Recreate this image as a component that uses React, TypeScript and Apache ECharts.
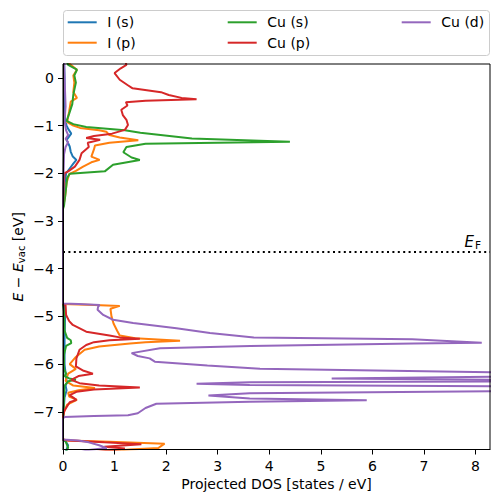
import React, { useEffect, useRef } from "react";
import * as echarts from "echarts";

const seriesNames = ["I (s)", "I (p)", "Cu (s)", "Cu (p)", "Cu (d)"];
const seriesColors = ["#1f77b4", "#ff7f0e", "#2ca02c", "#d62728", "#9467bd"];

// Each point: [projected DOS, E - E_vac]
const iS: number[][] = [
  [0.02, 0.4], [0.03, 0.0], [0.03, -0.5], [0.04, -0.9], [0.07, -1.0], [0.1, -1.07],
  [0.16, -1.17], [0.07, -1.3], [0.13, -1.44], [0.15, -1.55], [0.19, -1.65], [0.26, -1.72],
  [0.2, -1.8], [0.13, -1.9], [0.06, -2.0], [0.04, -2.2], [0.02, -2.5], [0, -2.72],
  [0, -4.74], [0.03, -4.78], [0.04, -5.0], [0.03, -5.5], [0.03, -6.0], [0.06, -6.3],
  [0.08, -6.38], [0.05, -6.45], [0.07, -6.55], [0.03, -6.7], [0.01, -7.0], [0, -7.15],
  [0, -7.58], [0.05, -7.62], [0.1, -7.7], [0.05, -7.85],
];

const iP: number[][] = [
  [0.1, 0.4], [0.12, 0.3], [0.27, 0.17], [0.2, 0.05], [0.22, -0.1], [0.2, -0.3],
  [0.27, -0.42], [0.15, -0.5], [0.12, -0.7], [0.08, -0.93], [0.2, -1.0], [0.33, -1.05],
  [0.7, -1.1], [0.84, -1.13], [0.9, -1.2], [1.1, -1.25], [1.46, -1.31], [0.9, -1.36],
  [0.62, -1.42], [0.6, -1.5], [0.55, -1.65], [0.71, -1.72], [0.55, -1.77], [0.39, -1.86],
  [0.25, -1.95], [0.12, -2.02], [0.07, -2.2], [0.04, -2.5], [0, -2.72],
  [0, -4.74], [0.6, -4.76], [1.1, -4.78], [0.92, -4.84], [0.94, -5.0], [0.98, -5.15],
  [1.05, -5.3], [1.1, -5.4], [1.4, -5.46], [2.27, -5.51], [1.6, -5.54], [1.3, -5.57],
  [0.7, -5.63], [0.42, -5.7], [0.25, -5.85], [0.13, -6.0], [0.25, -6.1], [0.1, -6.2],
  [0.05, -6.35], [0.2, -6.45], [0.62, -6.5], [0.3, -6.55], [0.1, -6.6], [0.12, -6.68],
  [0.27, -6.75], [0.08, -6.85], [0.02, -7.0], [0, -7.1],
  [0, -7.58], [0.1, -7.6], [0.9, -7.63], [1.97, -7.67], [1.9, -7.72], [1.85, -7.76],
  [1.3, -7.79], [0.6, -7.85],
];

const cuS: number[][] = [
  [0.05, 0.4], [0.1, 0.27], [0.27, 0.17], [0.22, 0.05], [0.25, -0.1], [0.2, -0.35],
  [0.18, -0.55], [0.12, -0.75], [0.07, -0.9], [0.2, -0.97], [0.45, -1.03], [1.2, -1.1],
  [1.5, -1.15], [2.5, -1.27], [4.4, -1.34], [1.6, -1.38], [1.23, -1.45], [1.17, -1.56],
  [1.33, -1.67], [1.49, -1.72], [0.97, -1.82], [0.81, -1.96], [0.13, -2.01], [0.08, -2.1],
  [0.05, -2.4], [0.02, -2.68], [0, -2.75],
  [0, -4.75], [0.02, -4.9], [0.03, -5.3], [0.08, -5.45], [0.15, -5.5], [0.16, -5.56],
  [0.06, -5.62], [0.02, -5.8], [0.02, -6.1], [0.06, -6.2], [0.03, -6.25], [0.12, -6.3],
  [0.25, -6.33], [0.1, -6.36], [0.03, -6.45], [0.02, -6.7], [0.01, -7.0], [0, -7.15],
  [0, -7.58], [0.05, -7.62], [0.1, -7.75], [0.05, -7.85],
];

const cuP: number[][] = [
  [1.2, 0.4], [1.23, 0.27], [1.12, 0.2], [1.0, 0.1], [1.1, -0.04], [1.25, -0.15],
  [1.35, -0.22], [1.9, -0.3], [2.05, -0.36], [2.3, -0.42], [2.59, -0.45], [1.6, -0.48],
  [1.22, -0.51], [1.25, -0.58], [1.13, -0.67], [1.16, -0.78], [1.23, -0.88], [1.26, -0.99],
  [1.2, -1.09], [0.95, -1.17], [0.6, -1.22], [0.45, -1.26], [0.72, -1.3], [0.48, -1.36],
  [0.5, -1.45], [0.36, -1.58], [0.32, -1.72], [0.23, -1.86], [0.1, -1.96], [0.03, -2.0],
  [0.01, -2.3], [0, -2.7],
  [0, -4.74], [0.05, -4.77], [0.06, -4.97], [0.12, -5.1], [0.19, -5.18], [0.45, -5.32],
  [0.9, -5.4], [1.1, -5.44], [1.49, -5.47], [0.9, -5.5], [0.6, -5.54], [0.45, -5.6],
  [0.32, -5.7], [0.26, -5.88], [0.25, -6.05], [0.4, -6.14], [0.58, -6.2], [0.3, -6.25],
  [0.16, -6.33], [0.32, -6.4], [0.7, -6.45], [1.49, -6.49], [0.6, -6.53], [0.26, -6.58],
  [0.13, -6.65], [0.26, -6.75], [0.13, -6.8], [0.03, -6.97], [0, -7.1],
  [0, -7.58], [0.1, -7.6], [0.8, -7.64], [1.52, -7.68], [0.8, -7.73], [1.2, -7.77],
  [1.0, -7.8], [0.5, -7.86],
];

const cuD: number[][] = [
  [0.02, 0.4], [0.03, 0.0], [0.04, -0.3], [0.05, -0.6], [0.03, -0.9], [0.06, -1.1],
  [0.1, -1.2], [0.05, -1.28], [0.1, -1.35], [0.05, -1.45], [0.02, -1.6], [0.01, -2.0],
  [0, -2.7],
  [0, -4.73], [0.3, -4.74], [0.71, -4.76], [0.68, -4.8], [0.67, -4.86], [0.78, -4.97],
  [0.97, -5.07], [1.36, -5.14], [2.2, -5.25], [2.85, -5.35], [3.7, -5.44], [6.77, -5.48],
  [8.12, -5.55], [6.8, -5.57], [3.63, -5.62], [1.88, -5.67], [1.33, -5.77], [1.45, -5.83],
  [1.68, -5.88], [1.78, -5.95], [2.8, -6.03], [3.82, -6.1], [9, -6.18], [11, -6.22],
  [9, -6.26], [5.21, -6.3], [9.5, -6.34], [9.5, -6.36], [3.62, -6.38], [2.59, -6.41],
  [3.62, -6.44], [9.5, -6.47], [11, -6.51], [9.5, -6.56], [3.62, -6.61], [2.82, -6.66],
  [3.62, -6.72], [5.89, -6.76], [3.62, -6.79], [1.81, -6.83], [1.6, -6.92], [1.45, -7.03],
  [1.26, -7.07], [0.6, -7.09], [0.02, -7.11], [0, -7.15],
  [0, -7.58], [0.3, -7.6], [0.5, -7.64], [0.7, -7.7], [0.85, -7.76], [0.5, -7.8],
  [0.3, -7.86],
];

const seriesData = [iS, iP, cuS, cuP, cuD];

const fermiLevel = -3.65;
const xTicks = [0, 1, 2, 3, 4, 5, 6, 7, 8];
const yTicks = [-7, -6, -5, -4, -3, -2, -1, 0];
const xMin = 0;
const xMax = 8.28;
const yMin = -7.79;
const yMax = 0.29;

const FONT = "DejaVu Sans";
const fmt = (v: number) => String(v).replace("-", "\u2212");

export default function App() {
  const ref = useRef<HTMLDivElement>(null);

  useEffect(() => {
    if (!ref.current) return;
    const chart = echarts.init(ref.current, null, { renderer: "svg" });

    const legendColX = [67.7, 227.7, 401.7];
    const legendRowY = [22.3, 42.7];
    const legendGraphics: any[] = [
      {
        type: "rect",
        shape: { x: 63.5, y: 10.5, width: 426, height: 45, r: 3 },
        style: { fill: "rgba(255,255,255,0.8)", stroke: "#cccccc", lineWidth: 1 },
        z: 20,
      },
    ];
    seriesNames.forEach((name, i) => {
      const cx = legendColX[Math.floor(i / 2)];
      const cy = legendRowY[i % 2];
      legendGraphics.push({
        type: "line",
        shape: { x1: cx, y1: cy, x2: cx + 29, y2: cy },
        style: { stroke: seriesColors[i], lineWidth: 2 },
        z: 21,
      });
      legendGraphics.push({
        type: "text",
        x: cx + 39.6,
        y: cy,
        style: {
          text: name,
          fontFamily: FONT,
          fontSize: 14,
          fill: "#000",
          verticalAlign: "middle",
          align: "left",
        },
        z: 21,
      });
    });

    const series: any[] = seriesData.map((d, i) => ({
      type: "line",
      name: seriesNames[i],
      data: d,
      showSymbol: false,
      symbol: "none",
      smooth: false,
      clip: true,
      lineStyle: { color: seriesColors[i], width: 2 },
      itemStyle: { color: seriesColors[i] },
      emphasis: { disabled: true },
      z: 2,
    }));
    series[4].markLine = {
      silent: true,
      symbol: ["none", "none"],
      data: [{ yAxis: fermiLevel }],
      lineStyle: { color: "#000", width: 2, type: [2, 3.4] },
      emphasis: { disabled: true },
      label: {
        show: true,
        position: "insideEndTop",
        distance: [9, 1],
        color: "#000",
        formatter: "{e|E}{f|F}",
        rich: {
          e: { fontFamily: FONT, fontStyle: "italic", fontSize: 15, color: "#000" },
          f: { fontFamily: FONT, fontSize: 10.5, color: "#000", padding: [7, 0, 0, 1] },
        },
      },
    };

    chart.setOption({
      animation: false,
      textStyle: { fontFamily: FONT },
      grid: {
        left: 63,
        right: 8,
        top: 64,
        bottom: 52.5,
        show: true,
        borderColor: "#000",
        borderWidth: 1,
        backgroundColor: "transparent",
        containLabel: false,
        outerBoundsMode: "none",
        z: 5,
      },
      xAxis: {
        type: "value",
        min: xMin,
        max: xMax,
        position: "bottom",
        z: 5,
        name: "Projected DOS [states / eV]",
        nameLocation: "middle",
        nameGap: 27,
        nameMoveOverlap: false,
        nameTextStyle: { fontFamily: FONT, fontSize: 14, color: "#000" },
        axisLine: { show: true, onZero: false, lineStyle: { color: "#000", width: 1 } },
        axisTick: { show: true, length: 5, lineStyle: { color: "#000", width: 1 }, customValues: xTicks },
        axisLabel: {
          customValues: xTicks,
          margin: 9,
          fontFamily: FONT,
          fontSize: 14,
          color: "#000",
          formatter: fmt,
        },
        splitLine: { show: false },
      },
      yAxis: {
        type: "value",
        min: yMin,
        max: yMax,
        position: "left",
        z: 5,
        name: "{i|E} \u2212 {i|E}{s|vac} [eV]",
        nameLocation: "middle",
        nameRotate: 90,
        nameGap: 37,
        nameMoveOverlap: false,
        nameTextStyle: {
          fontFamily: FONT,
          fontSize: 14,
          color: "#000",
          rich: {
            i: { fontFamily: FONT, fontStyle: "italic", fontSize: 14, color: "#000" },
            s: { fontFamily: FONT, fontSize: 10, color: "#000", padding: [7, 0, 0, 0] },
          },
        },
        axisLine: { show: true, onZero: false, lineStyle: { color: "#000", width: 1 } },
        axisTick: { show: true, length: 5, lineStyle: { color: "#000", width: 1 }, customValues: yTicks },
        axisLabel: {
          customValues: yTicks,
          margin: 9,
          fontFamily: FONT,
          fontSize: 14,
          color: "#000",
          formatter: fmt,
        },
        splitLine: { show: false },
      },
      graphic: legendGraphics,
      series,
    });

    return () => chart.dispose();
  }, []);

  return (
    <div
      ref={ref}
      style={{ position: "fixed", left: 0, top: 0, width: 498, height: 502, background: "#fff" }}
    />
  );
}
